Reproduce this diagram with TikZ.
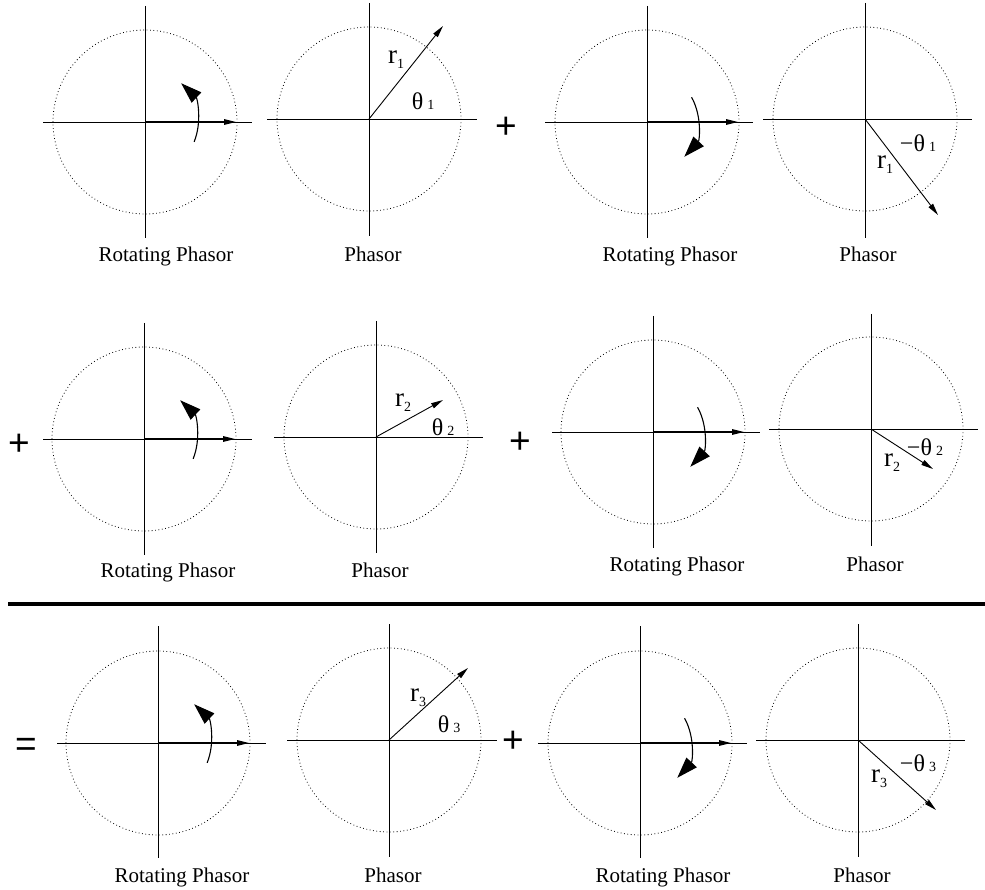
\documentclass[tikz,border=0pt]{standalone}
\usepackage{fontspec}
\setmainfont{Liberation Serif}
\newfontfamily\sansf{Liberation Sans}
\usetikzlibrary{arrows.meta}
\newcommand\phframe[7]{%
  \coordinate (#1) at (#2,#3);
  \coordinate (#1T) at (#2,#4);
  \coordinate (#1B) at (#2,#5);
  \coordinate (#1L) at (#6,#3);
  \coordinate (#1R) at (#7,#3);
  \draw[circ] (#1) circle[radius=92];
  \draw[axis] (#1T) -- (#1B);
  \draw[axis] (#1L) -- (#1R);
}
\newcommand\rotccw[1]{%
  \coordinate (#1E) at ([xshift=91pt]#1);
  \draw[hvec] (#1) -- (#1E);
  \draw[rot] (#1) ++(22:53) arc[start angle=22,end angle=-47,radius=53];
}
\newcommand\rotcw[1]{%
  \coordinate (#1E) at ([xshift=91pt]#1);
  \draw[hvec] (#1) -- (#1E);
  \draw[rot] (#1) ++(-29:51) arc[start angle=-29,end angle=43,radius=51];
}
\newcommand\rlab[1]{{\fontsize{27}{27}\selectfont r}\raisebox{-5pt}{\fontsize{14}{14}\selectfont #1}}
\newcommand\tlab[2]{{\fontsize{24}{24}\selectfont #1θ}\hspace{4pt}{\fontsize{14}{14}\selectfont #2}}
\begin{document}
\begin{tikzpicture}[x=1pt,y=-1pt,
  axis/.style={line width=0.8pt},
  circ/.style={line width=0.8pt, dash pattern=on 0.8pt off 2.6pt},
  vec/.style={line width=0.9pt,-{Triangle[length=12pt,width=5.5pt]}},
  hvec/.style={line width=1.3pt,-{Triangle[length=12pt,width=5.5pt]}},
  rot/.style={line width=1.1pt,-{Triangle[length=21pt,width=14pt]}},
  lab/.style={font=\fontsize{21}{22}\selectfont, inner sep=0pt, anchor=base},
  sym/.style={inner sep=0pt},
  op/.style={font=\sansf\fontsize{37}{37}\selectfont, inner sep=0pt},
]
\useasboundingbox (0,0) rectangle (985,890);

% ---------- row 1 ----------
\phframe{A}{145}{122}{6}{238}{43}{252}
\rotccw{A}
\node[lab] (Alab) at (166,262) {Rotating Phasor};

\phframe{B}{369}{119}{3}{236}{267}{477}
\coordinate (Bv) at (443,26);
\draw[vec] (B) -- (Bv);
\node[sym] (Br) at (396,60) {\rlab{1}};
\node[sym] (Bt) at (423,101) {\tlab{}{1}};
\node[lab] (Blab) at (373,262) {Phasor};

\node[op] (plus1) at (506,128) {+};

\phframe{C}{647}{122}{6}{238}{545}{753}
\rotcw{C}
\node[lab] (Clab) at (670,262) {Rotating Phasor};

\phframe{D}{865}{119}{3}{238}{763}{972}
\coordinate (Dv) at (938,215);
\draw[vec] (D) -- (Dv);
\node[sym] (Dt) at (918,143) {\tlab{−}{1}};
\node[sym] (Dr) at (885,165) {\rlab{1}};
\node[lab] (Dlab) at (868,262) {Phasor};

% ---------- row 2 ----------
\node[op] (plus2) at (19,445) {+};

\phframe{E}{144}{439}{323}{555}{43}{252}
\rotccw{E}
\node[lab] (Elab) at (168,577) {Rotating Phasor};

\phframe{F}{376}{437}{321}{553}{274}{483}
\coordinate (Fv) at (443,400);
\draw[vec] (F) -- (Fv);
\node[sym] (Fr) at (403,403) {\rlab{2}};
\node[sym] (Ft) at (443,427) {\tlab{}{2}};
\node[lab] (Flab) at (380,577) {Phasor};

\node[op] (plus3) at (520,443) {+};

\phframe{G}{653}{432}{316}{548}{552}{760}
\rotcw{G}
\node[lab] (Glab) at (677,571) {Rotating Phasor};

\phframe{H}{871}{429}{314}{546}{769}{978}
\coordinate (Hv) at (933,469);
\draw[vec] (H) -- (Hv);
\node[sym] (Ht) at (925,447) {\tlab{−}{2}};
\node[sym] (Hr) at (892,463) {\rlab{2}};
\node[lab] (Hlab) at (875,571) {Phasor};

% ---------- separator ----------
\coordinate (sepL) at (8,604);
\coordinate (sepR) at (985,604);
\draw[line width=4.5pt] (sepL) -- (sepR);

% ---------- row 3 ----------
\node[op] (eq) at (26,747) {=};

\phframe{I}{158}{743}{626}{858}{57}{266}
\rotccw{I}
\node[lab] (Ilab) at (182,882) {Rotating Phasor};

\phframe{J}{389}{740}{624}{857}{287}{497}
\coordinate (Jv) at (468,668);
\draw[vec] (J) -- (Jv);
\node[sym] (Jr) at (418,698) {\rlab{3}};
\node[sym] (Jt) at (449,724) {\tlab{}{3}};
\node[lab] (Jlab) at (393,882) {Phasor};

\node[op] (plus4) at (513,742) {+};

\phframe{K}{640}{743}{626}{858}{538}{747}
\rotcw{K}
\node[lab] (Klab) at (663,882) {Rotating Phasor};

\phframe{L}{858}{740}{624}{857}{756}{965}
\coordinate (Lv) at (936,810);
\draw[vec] (L) -- (Lv);
\node[sym] (Lt) at (918,763) {\tlab{−}{3}};
\node[sym] (Lr) at (879,779) {\rlab{3}};
\node[lab] (Llab) at (862,882) {Phasor};
\end{tikzpicture}
\end{document}
